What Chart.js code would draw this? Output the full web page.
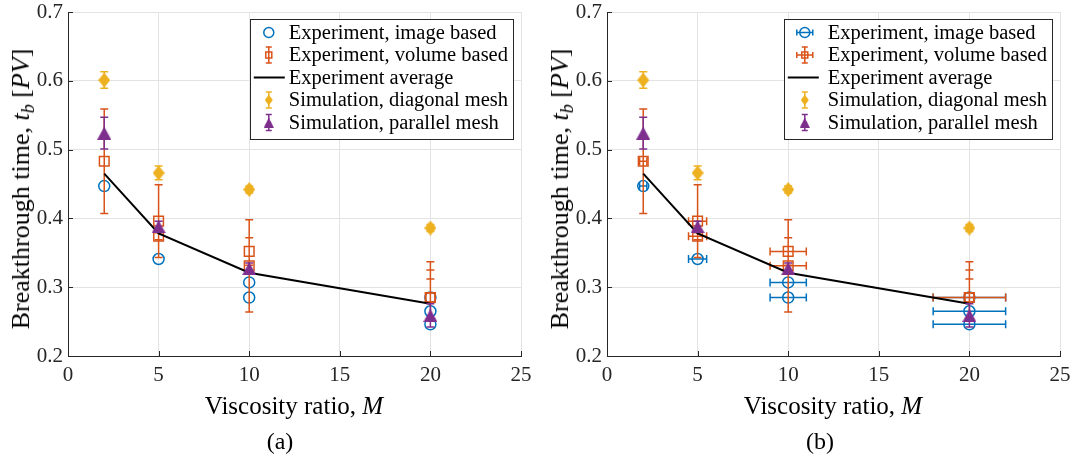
<!DOCTYPE html>
<html><head><meta charset="utf-8">
<script src="https://cdn.jsdelivr.net/npm/chart.js@4.4.1/dist/chart.umd.min.js"></script>
<style>
html,body{margin:0;padding:0;background:#fff;}
#wrap{position:relative;width:1084px;height:464px;overflow:hidden;font-family:"Liberation Serif","Times New Roman",serif;color:#000;}
canvas{position:absolute;top:0;}
.t{position:absolute;white-space:nowrap;line-height:1;}
.ytitle{font-size:26px;transform:translate(-50%,-50%) rotate(-90deg);}
.xtitle{font-size:25px;transform:translate(-50%,-50%);}
.cap{font-size:24px;transform:translate(-50%,-50%);}
sub{font-size:0.7em;vertical-align:-0.3em;line-height:0;}
</style></head>
<body><div id="wrap">
<canvas id="ca" width="542" height="464" style="left:0"></canvas>
<canvas id="cb" width="542" height="464" style="left:539px"></canvas>
<div class="t ytitle" style="left:21px;top:189px">Breakthrough time, <i>t<sub>b</sub></i> [<i>PV</i>]</div>
<div class="t ytitle" style="left:560px;top:189px">Breakthrough time, <i>t<sub>b</sub></i> [<i>PV</i>]</div>
<div class="t xtitle" style="left:294px;top:405px">Viscosity ratio, <i>M</i></div>
<div class="t xtitle" style="left:833px;top:405px">Viscosity ratio, <i>M</i></div>
<div class="t cap" style="left:280px;top:441px">(a)</div>
<div class="t cap" style="left:820px;top:441px">(b)</div>
</div>
<script>
// ---------------- data ----------------
const LABELS = ['Experiment, image based','Experiment, volume based','Experiment average','Simulation, diagonal mesh','Simulation, parallel mesh'];

const M_IMAGE     = [2, 5, 10, 10, 20, 20, 20];
const T_IMAGE     = [0.447, 0.341, 0.307, 0.285, 0.285, 0.265, 0.246];
const XERR_IMAGE  = [0.2, 0.5, 1, 1, 2, 2, 2];

const M_VOLUME        = [2, 5, 5, 10, 10, 20, 20, 20];
const T_VOLUME        = [0.483, 0.396, 0.374, 0.352, 0.331, 0.285, 0.285, 0.285];
const YERR_VOLUME_UP  = [0.076, 0.053, 0.005, 0.020, 0.067, 0.052, 0.040, 0.027];
const YERR_VOLUME_DN  = [0.076, 0.053, 0.005, 0.020, 0.067, 0.030, 0.030, 0.030];
const XERR_VOLUME     = [0.2, 0.5, 0.5, 1, 1, 2, 2, 2];

const M_AVG = [2, 5, 10, 20];
const T_AVG = [0.465, 0.378, 0.321, 0.276];

const M_SIM     = [2, 5, 10, 20];
const T_DIAG    = [0.601, 0.466, 0.442, 0.386];
const ERR_DIAG  = [0.012, 0.010, 0.005, 0.005];
const T_PAR     = [0.524, 0.388, 0.327, 0.259];
const ERR_PAR   = [0.023, 0.008, 0.008, 0.017];

const X_TICKS = [0, 5, 10, 15, 20, 25];
const X_TICK_LABELS = ['0', '5', '10', '15', '20', '25'];
const Y_TICKS = [0.2, 0.3, 0.4, 0.5, 0.6, 0.7];
const Y_TICK_LABELS = ['0.2', '0.3', '0.4', '0.5', '0.6', '0.7'];

// ---------------- styles ----------------
const C_BLUE = '#0072BD', C_ORANGE = '#D95319', C_YELLOW = '#EDB120', C_PURPLE = '#7E2F8E', C_AX = '#262626';
const FONT = '"Liberation Serif", "Times New Roman", serif';

function markerCanvas(kind, w, h, color) {
  const c = document.createElement('canvas');
  c.width = w; c.height = h;
  const g = c.getContext('2d');
  g.fillStyle = color;
  g.beginPath();
  if (kind === 'diamond') {
    g.moveTo(w / 2, 0); g.lineTo(w, h / 2); g.lineTo(w / 2, h); g.lineTo(0, h / 2);
  } else {
    g.moveTo(w / 2, 0); g.lineTo(w, h); g.lineTo(0, h);
  }
  g.closePath(); g.fill();
  return c;
}
const DIAMOND = markerCanvas('diamond', 12, 15, C_YELLOW);
const TRIANGLE = markerCanvas('triangle', 14, 13, C_PURPLE);

const pts = (xs, ys) => xs.map((x, i) => ({ x: x, y: ys[i] }));

function line(ctx, x1, y1, x2, y2) { ctx.moveTo(x1, y1); ctx.lineTo(x2, y2); }

const errorBars = {
  id: 'errorBars',
  beforeDatasetDraw(chart, args, opts) {
    const ds = chart.data.datasets[args.index];
    const useX = opts.xerr && ds.errX;
    if (!ds.errUp && !useX) return;
    const { ctx, chartArea: a, scales: { x, y } } = chart;
    ctx.save();
    ctx.beginPath(); ctx.rect(a.left, a.top, a.width, a.height); ctx.clip();
    ctx.strokeStyle = ds.borderColor; ctx.lineWidth = 1.5;
    ctx.beginPath();
    const cap = 4;
    ds.data.forEach((p, i) => {
      const px = x.getPixelForValue(p.x), py = y.getPixelForValue(p.y);
      if (ds.errUp) {
        const up = ds.errUp[i], dn = ds.errDn ? ds.errDn[i] : up;
        const y1 = y.getPixelForValue(p.y + up), y2 = y.getPixelForValue(p.y - dn);
        line(ctx, px, y1, px, y2);
        line(ctx, px - cap, y1, px + cap, y1);
        line(ctx, px - cap, y2, px + cap, y2);
      }
      if (useX) {
        const e = ds.errX[i];
        const x1 = x.getPixelForValue(p.x - e), x2 = x.getPixelForValue(p.x + e);
        line(ctx, x1, py, x2, py);
        line(ctx, x1, py - cap, x1, py + cap);
        line(ctx, x2, py - cap, x2, py + cap);
      }
    });
    ctx.stroke();
    ctx.restore();
  }
};

const inTicks = {
  id: 'inTicks',
  afterDraw(chart) {
    const { ctx, chartArea: a, scales: { x, y } } = chart;
    ctx.save();
    ctx.strokeStyle = C_AX; ctx.lineWidth = 1;
    ctx.beginPath();
    X_TICKS.forEach(v => { const px = Math.round(x.getPixelForValue(v)) + 0.5; line(ctx, px, a.bottom, px, a.bottom - 5); });
    Y_TICKS.forEach(v => { const py = Math.round(y.getPixelForValue(v)) + 0.5; line(ctx, a.left, py, a.left + 5, py); });
    ctx.stroke();
    ctx.restore();
  }
};

function drawIcon(ctx, d, cx, cy, xerr, left) {
  ctx.save();
  ctx.lineWidth = 1.5;
  const vbar = (col) => {
    ctx.strokeStyle = col; ctx.beginPath();
    line(ctx, cx, cy - 8, cx, cy + 8); line(ctx, cx - 3, cy - 8, cx + 3, cy - 8); line(ctx, cx - 3, cy + 8, cx + 3, cy + 8);
    ctx.stroke();
  };
  const hbar = (col) => {
    ctx.strokeStyle = col; ctx.beginPath();
    line(ctx, cx - 8, cy, cx + 8, cy); line(ctx, cx - 8, cy - 3, cx - 8, cy + 3); line(ctx, cx + 8, cy - 3, cx + 8, cy + 3);
    ctx.stroke();
  };
  switch (d.legendIcon) {
    case 'circle':
      if (xerr) hbar(C_BLUE);
      ctx.strokeStyle = C_BLUE; ctx.beginPath(); ctx.arc(cx, cy, 5, 0, Math.PI * 2); ctx.stroke();
      break;
    case 'square':
      vbar(C_ORANGE); if (xerr) hbar(C_ORANGE);
      ctx.strokeStyle = C_ORANGE; ctx.strokeRect(cx - 3, cy - 3, 6, 6);
      break;
    case 'line':
      ctx.strokeStyle = '#000'; ctx.lineWidth = 2; ctx.beginPath(); line(ctx, left + 4, cy, left + 35, cy); ctx.stroke();
      break;
    case 'diamond':
      vbar(C_YELLOW);
      ctx.drawImage(DIAMOND, cx - 4, cy - 5.5, 8, 11);
      break;
    case 'triangle':
      vbar(C_PURPLE);
      ctx.drawImage(TRIANGLE, cx - 5, cy - 5, 10, 10);
      break;
  }
  ctx.restore();
}

const boxLegend = {
  id: 'boxLegend',
  afterDraw(chart, args, opts) {
    const { ctx, chartArea: a } = chart;
    const ds = chart.data.datasets;
    ctx.save();
    ctx.font = '20.5px ' + FONT;
    const maxW = Math.max(...ds.map(d => ctx.measureText(d.label).width));
    const iconW = opts.iconW;
    const right = a.right - 8, top = a.top + 7;
    const w = iconW + maxW + 5, h = 120;
    const left = right - w;
    ctx.fillStyle = '#fff'; ctx.fillRect(left, top, w, h);
    ctx.strokeStyle = C_AX; ctx.lineWidth = 1; ctx.strokeRect(Math.round(left) + 0.5, top + 0.5, Math.round(w), h);
    ds.forEach((d, i) => {
      const cy = top + 13.5 + i * 22.5;
      drawIcon(ctx, d, left + opts.iconX, cy, opts.xerr, left);
      ctx.fillStyle = '#000'; ctx.textBaseline = 'middle'; ctx.textAlign = 'left';
      ctx.font = '20.5px ' + FONT;
      ctx.fillText(d.label, left + iconW, cy + 1);
    });
    ctx.restore();
  }
};

function buildChart(id, xerr) {
  const datasets = [
    { label: LABELS[0], legendIcon: 'circle', data: pts(M_IMAGE, T_IMAGE), errX: XERR_IMAGE,
      borderColor: C_BLUE, backgroundColor: 'rgba(0,0,0,0)', pointStyle: 'circle', pointRadius: 5.5, pointBorderWidth: 1.5, showLine: false, order: 5 },
    { label: LABELS[1], legendIcon: 'square', data: pts(M_VOLUME, T_VOLUME), errUp: YERR_VOLUME_UP, errDn: YERR_VOLUME_DN, errX: XERR_VOLUME,
      borderColor: C_ORANGE, backgroundColor: 'rgba(0,0,0,0)', pointStyle: 'rect', pointRadius: 6.8, pointBorderWidth: 1.5, showLine: false, order: 4 },
    { label: LABELS[2], legendIcon: 'line', data: pts(M_AVG, T_AVG),
      borderColor: '#000', backgroundColor: '#000', borderWidth: 2, pointRadius: 0, showLine: true, tension: 0, order: 3 },
    { label: LABELS[3], legendIcon: 'diamond', data: pts(M_SIM, T_DIAG), errUp: ERR_DIAG,
      borderColor: C_YELLOW, backgroundColor: C_YELLOW, pointStyle: DIAMOND, pointRadius: 6, showLine: false, order: 2 },
    { label: LABELS[4], legendIcon: 'triangle', data: pts(M_SIM, T_PAR), errUp: ERR_PAR,
      borderColor: C_PURPLE, backgroundColor: C_PURPLE, pointStyle: TRIANGLE, pointRadius: 6, showLine: false, order: 1 }
  ];
  return new Chart(document.getElementById(id), {
    type: 'scatter',
    data: { datasets },
    plugins: [errorBars, inTicks, boxLegend],
    options: {
      responsive: false, animation: false, devicePixelRatio: 1,
      layout: { padding: { top: 12, right: 21, left: 0, bottom: 0 } },
      plugins: { legend: { display: false }, tooltip: { enabled: false },
        errorBars: { xerr: xerr },
        boxLegend: { xerr: xerr, iconW: xerr ? 44 : 39, iconX: xerr ? 21 : 19 } },
      scales: {
        x: { type: 'linear', min: 0, max: 25,
          afterBuildTicks: s => { s.ticks = X_TICKS.map(v => ({ value: v })); },
          afterFit: s => { s.height = 108; s.paddingLeft = 0; s.paddingRight = 0; },
          grid: { color: '#e3e3e3', lineWidth: 1, drawTicks: false },
          border: { display: true, color: C_AX, width: 1 },
          ticks: { padding: 7, color: C_AX, font: { family: FONT, size: 21 }, maxRotation: 0,
            callback: (v, i) => X_TICK_LABELS[i] } },
        y: { type: 'linear', min: 0.2, max: 0.7,
          afterBuildTicks: s => { s.ticks = Y_TICKS.map(v => ({ value: v })); },
          afterFit: s => { s.width = 68; s.paddingTop = 0; s.paddingBottom = 0; },
          grid: { color: '#e3e3e3', lineWidth: 1, drawTicks: false },
          border: { display: true, color: C_AX, width: 1 },
          ticks: { padding: 5, color: C_AX, font: { family: FONT, size: 21 },
            callback: (v, i) => Y_TICK_LABELS[i] } }
      }
    }
  });
}
buildChart('ca', false);
buildChart('cb', true);
</script>
</body></html>
